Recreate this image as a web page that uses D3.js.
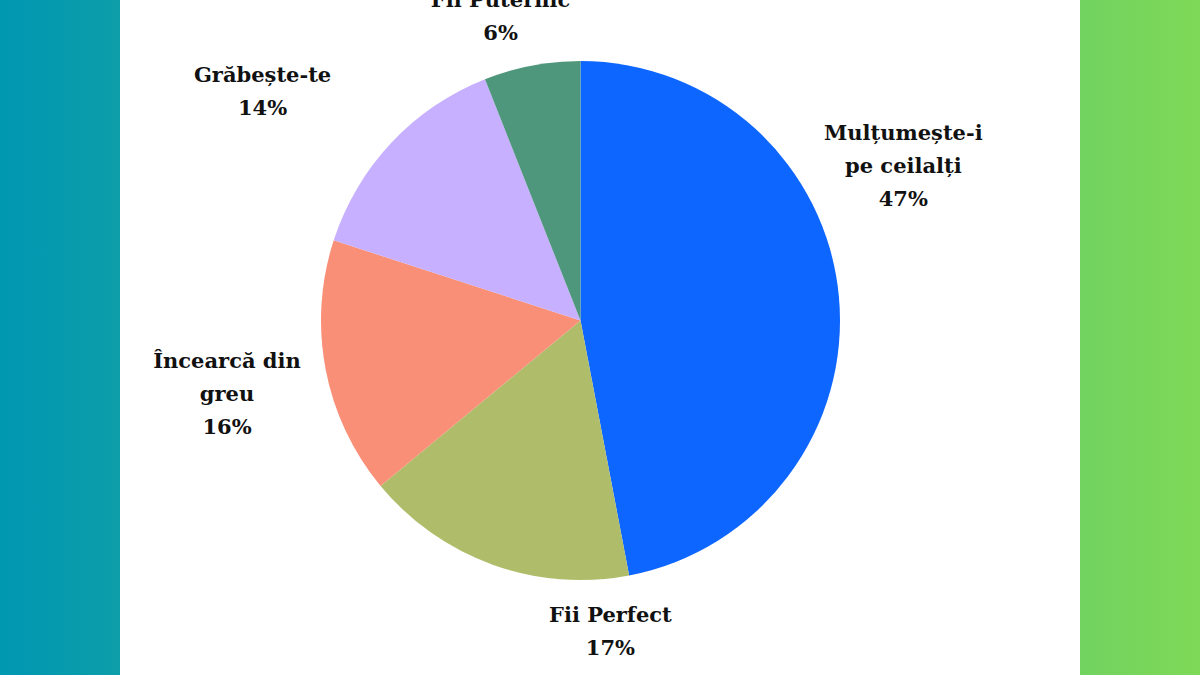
<!DOCTYPE html>
<html lang="ro">
<head>
  <meta charset="UTF-8">
  <script src="https://d3js.org/d3.v7.min.js"></script>
  <title>Driveri</title>
  <style>
    body { margin: 0; }
    svg { display: block; }
  </style>
</head>
<body>
  <div id="chart"></div>
  <script>
    // data
    const labels = [["Mulțumește-i", "pe ceilalți"], ["Fii Perfect"], ["Încearcă din", "greu"], ["Grăbește-te"], ["Fii Puternic"]];
    const values = [47, 17, 16, 14, 6];
    const colors = ["#0d66ff", "#afbd6b", "#fa8f78", "#c6b0ff", "#4f977c"];

    // label placement (angle in degrees from 12 o'clock, radius from centre)
    const labelAngle = [64.4, 174.5, 258.3, 305.8, 345.3];
    const labelRadius = [358, 312, 361, 392, 315];

    const width = 1200;
    const height = 675;
    const cx = 580.5, cy = 320.5, radius = 259.5;

    const svg = d3.select("#chart")
      .append("svg")
      .attr("width", width)
      .attr("height", height);

    const defs = svg.append("defs");
    const grad = defs.append("linearGradient")
      .attr("id", "bg")
      .attr("x1", "0%").attr("x2", "100%");
    grad.append("stop").attr("offset", "0%").attr("stop-color", "#0097b2");
    grad.append("stop").attr("offset", "100%").attr("stop-color", "#7ed957");

    svg.append("rect")
      .attr("width", width).attr("height", height)
      .attr("fill", "url(#bg)");

    svg.append("rect")
      .attr("x", 120).attr("width", 960).attr("height", height)
      .attr("fill", "#fff");

    const pie = d3.pie().sort(null).value(d => d);
    const arc = d3.arc().innerRadius(0).outerRadius(radius);

    const g = svg.append("g").attr("transform", `translate(${cx},${cy})`);

    g.selectAll("path")
      .data(pie(values))
      .enter()
      .append("path")
      .attr("d", arc)
      .attr("fill", (d, i) => colors[i]);

    const lineH = 33;
    const lbl = g.selectAll("text.label")
      .data(labels)
      .enter()
      .append("text")
      .attr("class", "label")
      .attr("text-anchor", "middle")
      .style("font-family", "'DejaVu Serif', serif")
      .style("font-weight", "bold")
      .style("font-size", "21px")
      .style("fill", "#111")
      .attr("transform", (d, i) => {
        const a = labelAngle[i] * Math.PI / 180;
        return `translate(${labelRadius[i] * Math.sin(a)},${-labelRadius[i] * Math.cos(a)})`;
      });

    lbl.each(function (d, i) {
      const lines = d.concat([values[i] + "%"]);
      const top = -(lines.length - 1) * lineH / 2;
      d3.select(this).selectAll("tspan")
        .data(lines)
        .enter()
        .append("tspan")
        .attr("x", 0)
        .attr("y", (t, j) => top + j * lineH)
        .attr("dy", "0.35em")
        .text(t => t);
    });
  </script>
</body>
</html>
